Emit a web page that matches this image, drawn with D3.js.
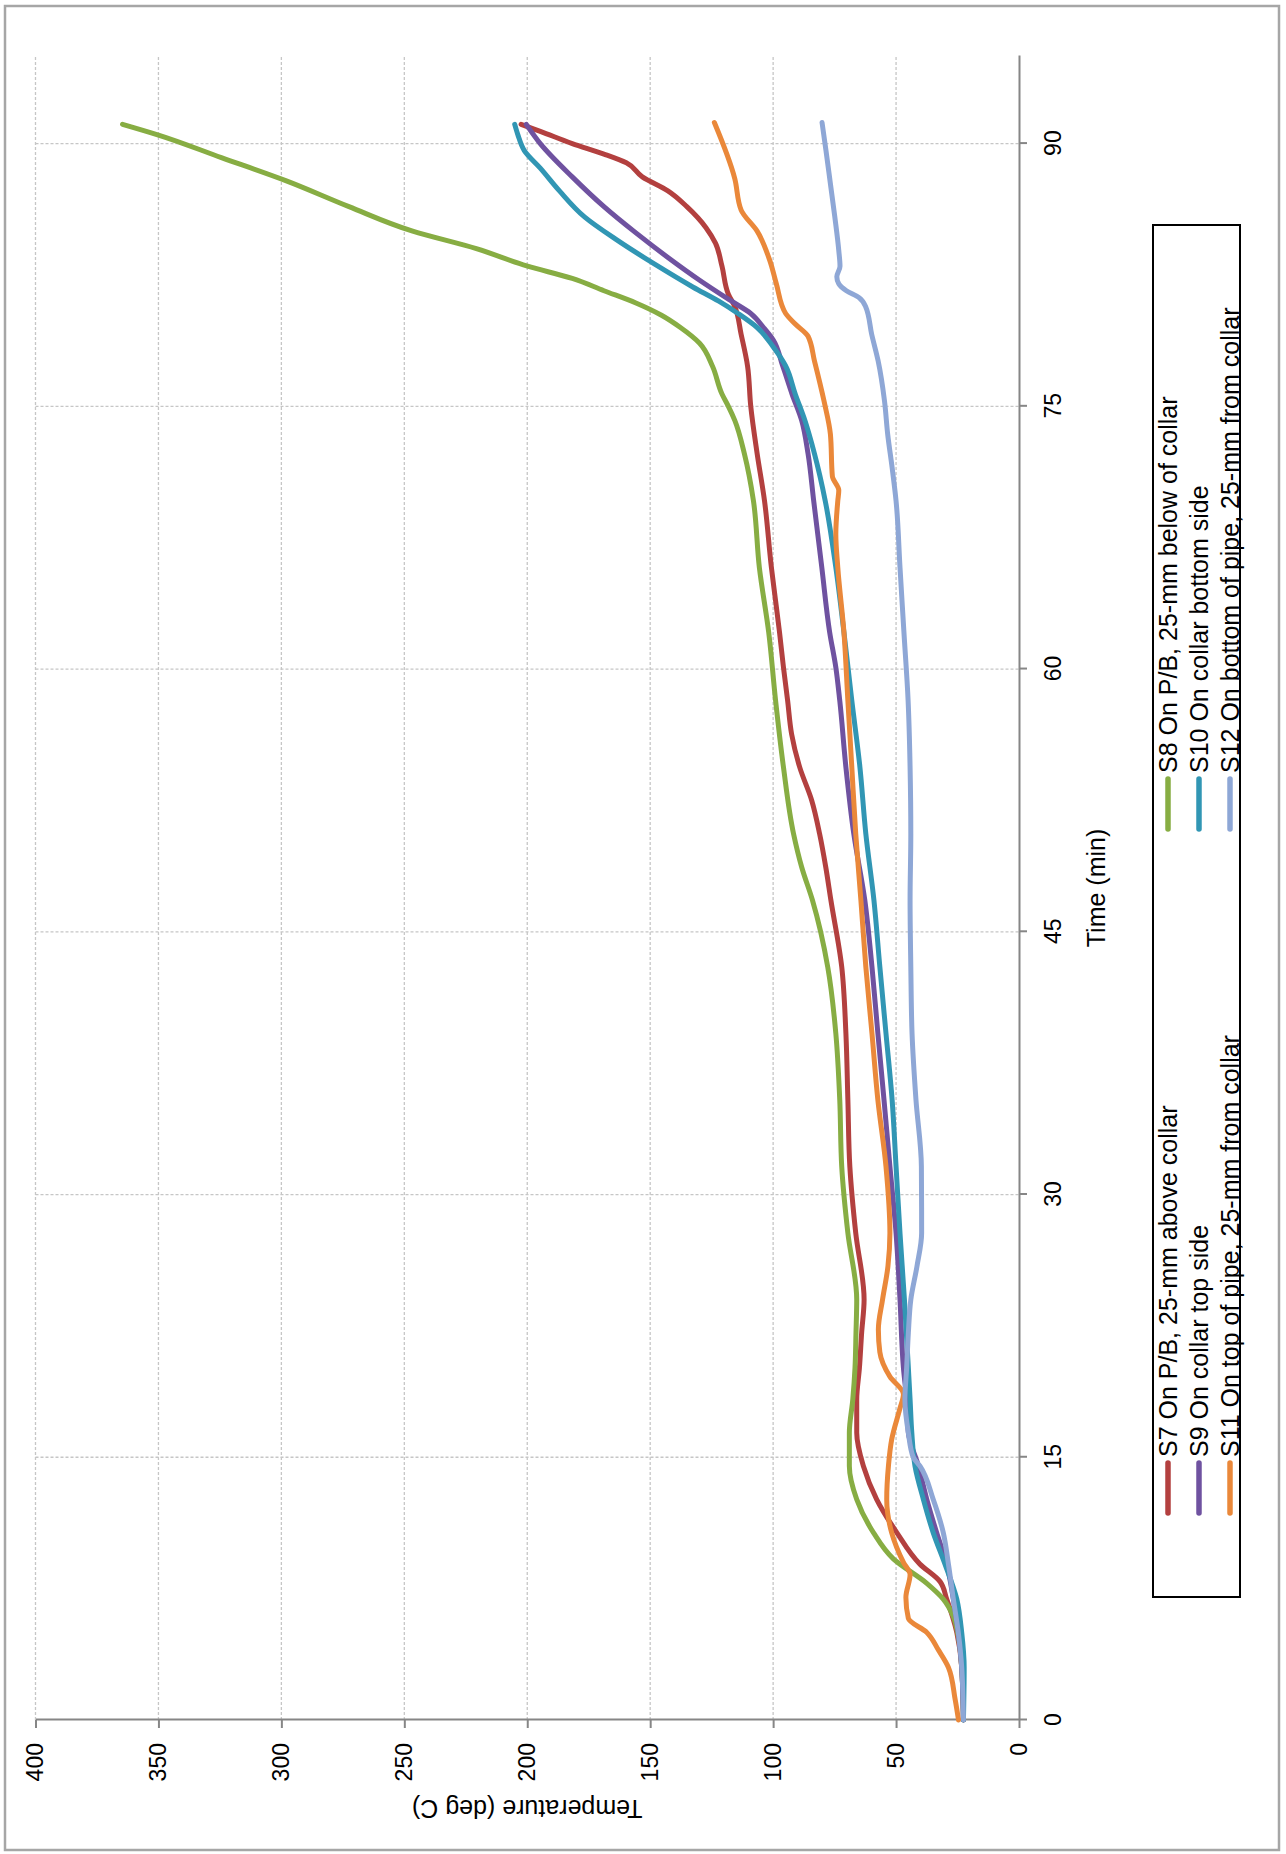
<!DOCTYPE html>
<html>
<head>
<meta charset="utf-8">
<title>Temperature vs time, S7-S12</title>
<style>
  body { margin: 0; background: #fff; }
  text { font-family: "Liberation Sans", Arial, sans-serif; fill: #000; }
  .grid line { stroke: #c6c6c6; stroke-width: 1.3; stroke-dasharray: 3,2; }
  .axis path, .axis line { stroke: #868686; stroke-width: 2; }
  .series { fill: none; stroke-width: 5; stroke-linecap: round; stroke-linejoin: round; }
</style>
</head>
<body>
<svg width="1286" height="1854"></svg>
<script src="https://cdn.jsdelivr.net/npm/d3@7"></script>
<script>
// Readings [time (min), temperature (deg C)] taken off the original figure.
var s7 = [[0,22.6],[3,23.3],[5,25.3],[6.9,29.4],[7.9,32.1],[8.9,40.3],[10.7,49.7],[12.6,57.9],[14.5,63.3],[16.4,66.0],[18.3,66.0],[20.1,64.9],[22.1,64.0],[24,63.0],[27.8,66.4],[31.6,68.8],[35.4,69.6],[39.2,70.4],[43,72.1],[46.8,76.5],[48.7,78.6],[50.6,81.1],[52.5,84.3],[54.4,89.2],[56.3,92.5],[58.2,94.1],[60.1,95.8],[62.1,97.4],[63.9,99.0],[65.8,100.7],[69.6,103.5],[72.3,106.5],[75,109.1],[77.3,110.4],[79.1,113],[80.7,115.6],[81.4,118.2],[83,120.8],[84.3,123.4],[85.2,127.3],[86.4,135.1],[87.3,142.8],[88.1,153.2],[88.9,159.7],[89.4,168.8],[90,181.7],[90.7,194.7],[91.1,202.5]];
var s8 = [[0,22.6],[3,23.3],[5,25],[5.9,26.7],[6.9,30.8],[7.8,37.5],[9.2,51.1],[10.7,59.2],[12.6,66.0],[14.5,69.0],[16.4,69.0],[18.3,67.6],[20.1,66.7],[22.1,66.3],[24,66.0],[27.8,69.6],[31.6,72.1],[35.4,72.9],[39.2,74.5],[43,77.8],[46.8,84.0],[48.7,88.4],[50.6,91.7],[54.4,95.8],[58.2,99.0],[62.1,101.8],[65.8,105.6],[69.6,108.0],[72.3,111.7],[74.2,115.6],[75,118.2],[75.7,120.8],[77.3,124.7],[78.6,129.9],[79.5,137.7],[80.2,145.4],[80.9,155.8],[81.6,168.8],[82.3,181.7],[83,199.9],[84,220.7],[85,246.6],[86.4,272.5],[87.9,298.5],[89.2,324.4],[90.5,350.3],[91.1,364.6]];
var s9 = [[0,22.6],[3,23.3],[5,24.7],[6.9,26.7],[8.9,29.4],[10.7,33.5],[12.6,37.5],[14.5,40.9],[16.4,45.0],[18.3,45.7],[20.1,47.0],[24,48.4],[27.8,50.0],[31.6,52.5],[35.4,54.9],[39.2,57.4],[43,59.8],[46.8,62.7],[50.6,67.2],[54.4,70.4],[58.2,72.9],[60.1,74.5],[62.1,77.0],[65.8,80.2],[69.6,83.5],[72.3,85.8],[74.2,88.4],[75.7,92.3],[77.3,96.1],[78.8,100.0],[79.5,103.9],[80.3,109.1],[81,116.9],[82.2,129.9],[83.5,142.8],[84.9,155.8],[86.4,168.8],[88.1,181.7],[90,194.7],[91.1,200.4]];
var s10 = [[0,22.6],[3,22.3],[5,23.3],[6.9,25.3],[8.9,30.1],[10.7,34.9],[12.6,38.9],[14.5,42.3],[16.4,43.6],[18.3,44.3],[20.1,45.0],[24,46.6],[27.8,48.4],[31.6,50.0],[35.4,51.6],[39.2,54.1],[43,56.6],[46.8,59.0],[50.6,62.3],[54.4,64.7],[58.2,68.0],[62.1,71.2],[65.8,74.5],[69.6,78.8],[72.3,83.2],[74.2,87.1],[75.7,91.0],[77.3,94.9],[78.4,100.0],[79.5,106.5],[80.3,114.3],[81,122.1],[81.8,132.5],[83.1,148.0],[84.5,163.6],[85.8,176.6],[87.3,186.9],[88.6,194.7],[89.6,201.2],[90.5,203.8],[91.1,205.1]];
var s11 = [[0,24.6],[1.2,26],[3,28.7],[4,32.8],[5,37.5],[5.8,45],[7,46],[8.3,44.3],[9,47],[10.7,51.8],[12.6,53.8],[14.5,53.1],[16,51.8],[17.8,48.4],[18.6,47],[19.6,52.5],[21,56.6],[22.3,57.2],[24,55.5],[25.9,53.3],[27.8,52.5],[31.6,54.1],[35.4,57.4],[39.2,59.8],[43,62.3],[46.8,64.3],[50.6,66.4],[54.4,68.0],[58.2,69.6],[62.1,71.2],[65.8,73.7],[67.7,74.5],[69.6,73.7],[70.2,73.3],[71,75.9],[73.4,76.7],[75.3,79.3],[77.6,83.2],[79,85.8],[79.7,91],[80.3,94.9],[82,98.7],[83.3,101.3],[85,106.5],[86.2,113],[88,115.6],[91.2,123.9]];
var s12 = [[0,22.6],[3,23.3],[5,24.7],[6.9,26.7],[8.9,28.7],[10.7,30.8],[12.6,34.9],[14.5,40.3],[15,43.0],[16.4,45.0],[18.3,46.4],[20.1,45.7],[22.1,45.0],[24,44.0],[25.9,41.5],[27.8,39.6],[31.6,39.7],[35.4,41.9],[39.2,43.5],[43,44.0],[46.8,44.3],[50.6,44.0],[54.4,44.3],[58.2,45.1],[62.1,46.8],[65.8,48.4],[69.6,50.0],[71.5,51.6],[73.4,53.4],[75.3,54.7],[77.6,57.3],[79.1,59.9],[80.7,62.4],[81.2,65.0],[81.6,70.2],[82,73.3],[82.4,74.1],[83,72.8],[83.9,73.3],[85.8,74.9],[87.7,76.7],[89.6,78.5],[91.2,80.1]];

var seriesNames = ["S7 On P/B, 25-mm above collar", "S8 On P/B, 25-mm below of collar",
                   "S9 On collar top side", "S10 On collar bottom side",
                   "S11 On top of pipe, 25-mm from collar", "S12 On bottom of pipe, 25-mm from collar"];
var seriesColors = ["#b3403f", "#87ad43", "#6f52a0", "#3196b4", "#ea883a", "#8ea7d6"];
var seriesData = [s7, s8, s9, s10, s11, s12];

var timeTicks = [0, 15, 30, 45, 60, 75, 90];
var tempTicks = [0, 50, 100, 150, 200, 250, 300, 350, 400];

var svg = d3.select("svg");
svg.append("rect")
    .attr("x", 5).attr("y", 6).attr("width", 1274).attr("height", 1844)
    .attr("fill", "#fff").attr("stroke", "#a6a6a6").attr("stroke-width", 2.5);

// The chart is drawn the normal way and then turned a quarter turn to the left.
var plotW = 1664, plotH = 983.5;
var x = d3.scaleLinear().domain([0, 95]).range([0, plotW]);
var y = d3.scaleLinear().domain([0, 400]).range([plotH, 0]);

var g = svg.append("g").attr("transform", "translate(35.5,1720) rotate(-90)");

// grid
var grid = g.append("g").attr("class", "grid");
grid.selectAll(".gx").data(timeTicks.slice(1)).enter().append("line")
    .attr("x1", d => x(d)).attr("x2", d => x(d))
    .attr("y1", 0).attr("y2", plotH);
grid.selectAll(".gy").data(tempTicks.slice(1)).enter().append("line")
    .attr("x1", 0).attr("x2", plotW)
    .attr("y1", d => y(d)).attr("y2", d => y(d));

// axes
var xAxis = g.append("g").attr("class", "axis")
    .attr("transform", "translate(0," + plotH + ")")
    .call(d3.axisBottom(x).tickValues(timeTicks).tickSize(8).tickSizeOuter(0).tickPadding(18));
var yAxis = g.append("g").attr("class", "axis")
    .call(d3.axisLeft(y).tickValues(tempTicks).tickSize(8).tickSizeOuter(0).tickPadding(15));
g.selectAll(".axis text").attr("font-size", 23).attr("font-family", "Liberation Sans, Arial, sans-serif");

g.append("text")
    .attr("x", plotW / 2).attr("y", plotH + 86)
    .attr("text-anchor", "middle").attr("font-size", 25)
    .text("Time (min)");
g.append("text")
    .attr("transform", "translate(-80," + (plotH / 2) + ") rotate(-90)")
    .attr("text-anchor", "middle").attr("font-size", 25)
    .text("Temperature (deg C)");

// lines
var line = d3.line()
    .x(d => x(d[0]))
    .y(d => y(d[1]))
    .curve(d3.curveMonotoneX);

g.selectAll(".series").data(seriesData).enter().append("path")
    .attr("class", "series")
    .attr("stroke", (d, i) => seriesColors[i])
    .attr("d", line);

// legend (two columns, three rows)
var legend = g.append("g").attr("transform", "translate(123,1117.5)");
legend.append("rect")
    .attr("width", 1372).attr("height", 87)
    .attr("fill", "#fff").attr("stroke", "#000").attr("stroke-width", 2);
var colX = [84, 768], rowY = [15, 46, 77];
var items = legend.selectAll(".item").data(seriesNames).enter().append("g")
    .attr("transform", (d, i) => "translate(" + colX[i % 2] + "," + rowY[Math.floor(i / 2)] + ")");
items.append("line")
    .attr("x1", 0).attr("x2", 50)
    .attr("stroke", (d, i) => seriesColors[i])
    .attr("stroke-width", 5.5).attr("stroke-linecap", "round");
items.append("text")
    .attr("x", 56).attr("dy", "0.35em")
    .attr("font-size", 25)
    .text(d => d);
</script>
</body>
